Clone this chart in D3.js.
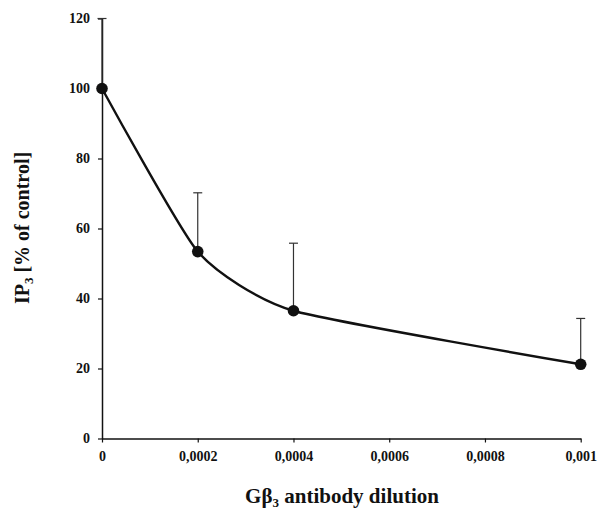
<!DOCTYPE html>
<html>
<head>
<meta charset="utf-8">
<script src="https://cdn.jsdelivr.net/npm/d3@7/dist/d3.min.js"></script>
<style>
  body { margin: 0; background: #fff; }
  svg { display: block; }
</style>
</head>
<body>
<svg id="chart" width="597" height="510"></svg>
<script>
const dilutions = [0, 0.0002, 0.0004, 0.001];
const ip3Values = [100, 53.4, 36.5, 21.2];
const ip3Errors = [20, 16.8, 19.3, 13.1];
const xTicks = [0, 0.0002, 0.0004, 0.0006, 0.0008, 0.001];
const xTickLabels = ["0", "0,0002", "0,0004", "0,0006", "0,0008", "0,001"];
const yTicks = [0, 20, 40, 60, 80, 100, 120];

const FONT = "'Liberation Serif', 'Times New Roman', serif";
const svg = d3.select("#chart");
const x = d3.scaleLinear().domain([0, 0.001]).range([102, 580.7]);
const y = d3.scaleLinear().domain([0, 120]).range([438.5, 18.5]);

// axes
const xAxis = svg.append("g").attr("transform", `translate(0,${y(0)})`)
  .call(d3.axisBottom(x).tickValues(xTicks).tickFormat((d, i) => xTickLabels[i]).tickSize(4).tickSizeOuter(0).tickPadding(9));
const yAxis = svg.append("g").attr("transform", `translate(${x(0)},0)`)
  .call(d3.axisLeft(y).tickValues(yTicks).tickSize(4).tickSizeOuter(0).tickPadding(8));
[xAxis, yAxis].forEach(g => {
  g.select(".domain").attr("stroke", "#111").attr("stroke-width", 1.5);
  g.selectAll(".tick line").attr("stroke", "#111").attr("stroke-width", 1.2);
  g.selectAll(".tick text").attr("font-size", 14).attr("font-family", FONT).attr("font-weight", "bold").attr("fill", "#111");
});

const pts = dilutions.map((d, i) => ({ x: d, v: ip3Values[i], e: ip3Errors[i] }));

// error bars (upper only)
const eb = svg.append("g").attr("stroke", "#333").attr("stroke-width", 1.2);
pts.forEach(p => {
  eb.append("line").attr("x1", x(p.x)).attr("x2", x(p.x)).attr("y1", y(p.v)).attr("y2", y(p.v + p.e));
  eb.append("line").attr("x1", x(p.x) - 4.5).attr("x2", x(p.x) + 4.5).attr("y1", y(p.v + p.e)).attr("y2", y(p.v + p.e));
});

// line
const line = d3.line().x(p => x(p.x)).y(p => y(p.v)).curve(d3.curveCardinal.tension(0.45));
svg.append("path").datum(pts).attr("d", line).attr("fill", "none").attr("stroke", "#111").attr("stroke-width", 2.4);

// markers
svg.append("g").selectAll("circle").data(pts).join("circle")
  .attr("cx", p => x(p.x)).attr("cy", p => y(p.v)).attr("r", 5.8).attr("fill", "#111");

// titles
const xt = svg.append("text").attr("x", 342).attr("y", 503).attr("text-anchor", "middle").attr("font-size", 21).attr("font-family", FONT).attr("font-weight", "bold").attr("fill", "#111");
xt.append("tspan").text("Gβ");
xt.append("tspan").attr("font-size", 13).attr("dy", 4).text("3");
xt.append("tspan").attr("dy", -4).text(" antibody dilution");

const yt = svg.append("text").attr("transform", "translate(29,228) rotate(-90)").attr("text-anchor", "middle").attr("font-size", 20).attr("font-family", FONT).attr("font-weight", "bold").attr("fill", "#111");
yt.append("tspan").text("IP");
yt.append("tspan").attr("font-size", 13).attr("dy", 4).text("3");
yt.append("tspan").attr("dy", -4).text(" [% of control]");
</script>
</body>
</html>
